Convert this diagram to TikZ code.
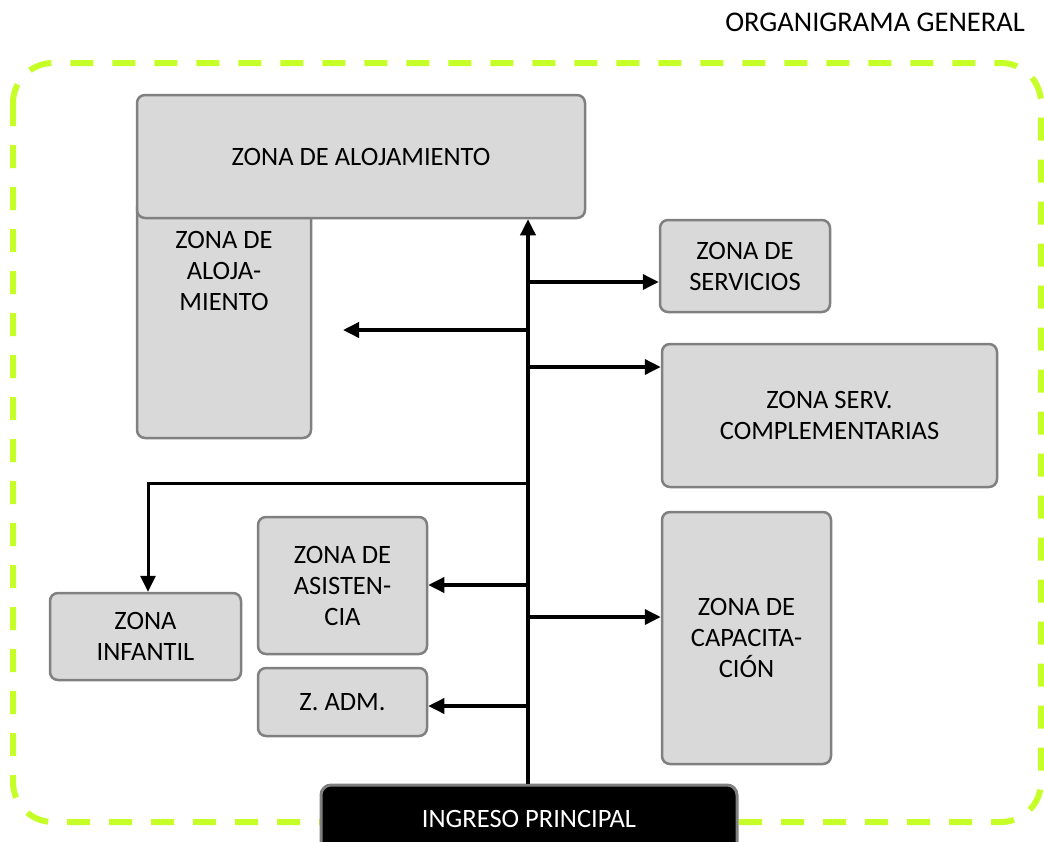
\documentclass[tikz,border=0pt]{standalone}
\usepackage{fontspec}
\setmainfont{Carlito}
\usetikzlibrary{arrows.meta}
\definecolor{limeg}{RGB}{198,255,40}
\definecolor{boxfill}{RGB}{217,217,217}
\definecolor{boxline}{RGB}{128,128,128}
\tikzset{
  zbox/.style={draw=boxline, fill=boxfill, line width=2.5pt, rounded corners=8pt, align=center, inner sep=0pt, font=\fontsize{26.5}{31}\selectfont},
  arr/.style={line width=3.5pt, -{Triangle[length=16pt,width=15pt]}},
  thin arr/.style={line width=3pt, -{Triangle[length=16pt,width=15pt]}},
}
\begin{document}
\begin{tikzpicture}[x=1pt,y=-1pt]
\useasboundingbox (0,0) rectangle (1044,841);
% title
\node[anchor=east, font=\fontsize{28.5}{32}\selectfont, inner sep=0pt] (title) at (1025,22) {ORGANIGRAMA GENERAL};
% dashed boundary
\draw[limeg, line width=6pt, dash pattern=on 23pt off 19pt, rounded corners=40pt] (13,63) rectangle (1041,822);
% tall alojamiento box (partly hidden)
\node[zbox, minimum width=174pt, minimum height=238pt,
  label={[anchor=north, align=center, yshift=-29pt, font=\fontsize{26.5}{31}\selectfont]north:ZONA DE\\ALOJA-\\MIENTO}] (aloj2) at (224,319) {};
% top alojamiento box
\node[zbox, minimum width=448pt, minimum height=123pt] (aloj) at (361,156.5) {ZONA DE ALOJAMIENTO};
% other boxes
\node[zbox, minimum width=170pt, minimum height=92pt] (serv) at (745,266) {ZONA DE\\SERVICIOS};
\node[zbox, minimum width=335pt, minimum height=143pt] (comp) at (829.5,415.5) {ZONA SERV.\\COMPLEMENTARIAS};
\node[zbox, minimum width=191pt, minimum height=87pt] (inf) at (145.5,636.5) {ZONA\\INFANTIL};
\node[zbox, minimum width=169pt, minimum height=137pt] (asis) at (342.5,585.5) {ZONA DE\\ASISTEN-\\CIA};
\node[zbox, minimum width=169pt, minimum height=68pt] (adm) at (342.5,702) {Z. ADM.};
\node[zbox, minimum width=169pt, minimum height=252pt] (cap) at (746.5,638) {ZONA DE\\CAPACITA-\\CIÓN};
% entrance
\node[draw=boxline, fill=black, text=white, line width=3pt, rounded corners=10pt, minimum width=416pt, minimum height=80pt, font=\fontsize{26.5}{31}\selectfont, text depth=0pt] (ing) at (529,825) {\raisebox{12pt}{INGRESO PRINCIPAL}};
% trunk coordinates
\coordinate (t1) at (528,282);
\coordinate (t2) at (528,330);
\coordinate (t3) at (528,367);
\coordinate (t4) at (528,483);
\coordinate (t5) at (528,585);
\coordinate (t6) at (528,617);
\coordinate (t7) at (528,706);
\coordinate (freeend) at (343,330);
\coordinate (bend) at (148,483);
% connectors
\draw[arr] (ing.north -| 528,0) -- (aloj.south -| 528,0);
\draw[arr] (t1) -- (serv.west |- t1);
\draw[arr] (t2) -- (freeend);
\draw[arr] (t3) -- (comp.west |- t3);
\draw[thin arr] (t4) -- (bend) -- (inf.north -| bend);
\draw[arr] (t5) -- (asis.east |- t5);
\draw[arr] (t6) -- (cap.west |- t6);
\draw[arr] (t7) -- (adm.east |- t7);
\end{tikzpicture}
\end{document}
